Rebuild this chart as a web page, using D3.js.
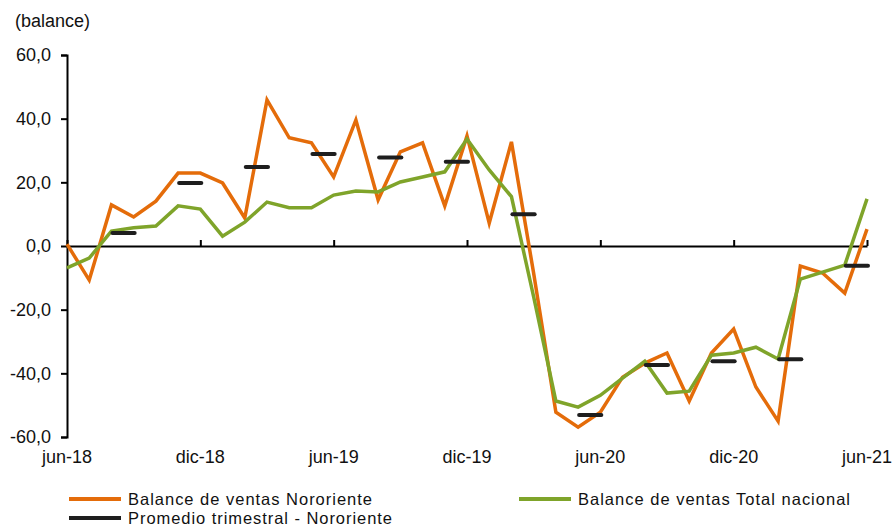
<!DOCTYPE html>
<html>
<head>
<meta charset="utf-8">
<script src="https://cdn.jsdelivr.net/npm/d3@7"></script>
<style>
  body { margin: 0; background: #fff; }
  svg text { font-family: "Liberation Sans", Arial, sans-serif; fill: #111; }
</style>
</head>
<body>
<div id="chart"></div>
<script>
// monthly data, jun-18 .. jun-21
var nororiente = [0.6, -10.7, 12.9, 9.1, 14.1, 22.9, 22.9, 19.8, 8.8, 45.9, 34.0, 32.4,
    21.7, 39.6, 14.5, 29.6, 32.4, 12.6, 34.6, 7.2, 32.7, -8.6, -52.2, -56.9,
    -52.2, -41.2, -36.8, -33.6, -48.7, -33.6, -26.1, -44.3, -55.0, -6.3, -8.5, -14.8, 5.3];
var nacional = [-6.9, -3.8, 4.7, 5.7, 6.3, 12.6, 11.6, 3.1, 7.5, 13.8, 12.0, 12.0,
    16.0, 17.3, 17.0, 20.1, 21.7, 23.3, 33.6, 23.9, 15.5, -16.0, -48.7, -50.6,
    -46.9, -41.5, -36.2, -46.2, -45.6, -34.3, -33.6, -31.8, -35.5, -10.4, -8.2, -6.0, 14.8];
// quarterly average Nororiente (dash starts at month index)
var trimIndex = [2, 5, 8, 11, 14, 17, 20, 23, 26, 29, 32, 35];
var trimValues = [4.1, 19.8, 24.8, 28.9, 27.8, 26.5, 10.0, -53.1, -37.4, -36.2, -35.6, -6.2];

var xTickIndex = [0, 6, 12, 18, 24, 30, 36];
var xTickLabels = ['jun-18', 'dic-18', 'jun-19', 'dic-19', 'jun-20', 'dic-20', 'jun-21'];
var yTicks = [-60, -40, -20, 0, 20, 40, 60];

var colOrange = '#e46c0a', colGreen = '#7fa42a', colBlack = '#1e1e1e';

var W = 895, H = 527;

var svg = d3.select('#chart')
    .append('svg')
    .attr('width', W)
    .attr('height', H);

var x = d3.scaleLinear().domain([0, 36]).range([67, 867]);
var y = d3.scaleLinear().domain([-60, 60]).range([437, 55]);

// y axis
var yAxis = d3.axisLeft(y)
    .tickValues(yTicks)
    .tickSize(6)
    .tickPadding(10)
    .tickFormat(d => d3.format('.1f')(d).replace('.', ',').replace('−', '-'));

var gy = svg.append('g')
    .attr('transform', `translate(${x(0)},0)`)
    .call(yAxis);
gy.select('.domain').attr('stroke', '#000').attr('stroke-width', 2);
gy.selectAll('.tick line').attr('stroke', '#000').attr('stroke-width', 2);
gy.selectAll('.tick text')
    .attr('font-size', 18)
    .attr('fill', '#111')
    .attr('font-family', '"Liberation Sans", Arial, sans-serif');

// x axis on zero line, ticks upward
var xAxis = d3.axisTop(x)
    .tickValues(xTickIndex)
    .tickSize(6)
    .tickSizeOuter(0)
    .tickFormat('');

var gx = svg.append('g')
    .attr('transform', `translate(0,${y(0)})`)
    .call(xAxis);
gx.select('.domain').attr('stroke', '#000').attr('stroke-width', 2);
gx.selectAll('.tick line').attr('stroke', '#000').attr('stroke-width', 2);

svg.append('g')
    .selectAll('text')
    .data(xTickIndex)
    .enter()
    .append('text')
    .attr('x', d => x(d))
    .attr('y', 463)
    .attr('text-anchor', 'middle')
    .attr('font-size', 18)
    .text((d, i) => xTickLabels[i]);

svg.append('text')
    .attr('x', 15)
    .attr('y', 27)
    .attr('font-size', 18)
    .text('(balance)');

// lines
var line = d3.line()
    .x((d, i) => x(i))
    .y(d => y(d));

svg.append('path')
    .datum(nororiente)
    .attr('fill', 'none')
    .attr('stroke', colOrange)
    .attr('stroke-width', 3.5)
    .attr('d', line);

svg.append('path')
    .datum(nacional)
    .attr('fill', 'none')
    .attr('stroke', colGreen)
    .attr('stroke-width', 3.5)
    .attr('d', line);

// quarterly dashes
svg.append('g')
    .selectAll('line')
    .data(trimValues)
    .enter()
    .append('line')
    .attr('x1', (d, i) => x(trimIndex[i]) + 1)
    .attr('x2', (d, i) => x(trimIndex[i] + 1) + 1)
    .attr('y1', d => y(d))
    .attr('y2', d => y(d))
    .attr('stroke', colBlack)
    .attr('stroke-width', 4)
    .attr('stroke-linecap', 'round');

// legend
var legend = [
    { label: 'Balance de ventas Nororiente', color: colOrange, lx: 69, ly: 499, tl: 244 },
    { label: 'Balance de ventas Total nacional', color: colGreen, lx: 519, ly: 499, tl: 272 },
    { label: 'Promedio trimestral - Nororiente', color: colBlack, lx: 69, ly: 518, tl: 264 }
];

var lg = svg.append('g')
    .selectAll('g')
    .data(legend)
    .enter()
    .append('g');

lg.append('line')
    .attr('x1', d => d.lx)
    .attr('x2', d => d.lx + 52)
    .attr('y1', d => d.ly)
    .attr('y2', d => d.ly)
    .attr('stroke', d => d.color)
    .attr('stroke-width', 4);

lg.append('text')
    .attr('x', d => d.lx + 59)
    .attr('y', d => d.ly + 6)
    .attr('font-size', 16.5)
    .attr('textLength', d => d.tl)
    .attr('lengthAdjust', 'spacing')
    .text(d => d.label);
</script>
</body>
</html>
